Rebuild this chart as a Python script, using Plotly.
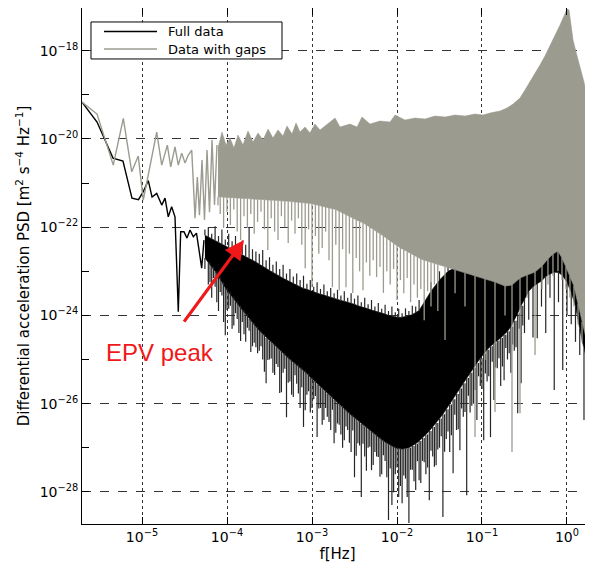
import numpy as np
import plotly.graph_objects as go

# ---------------- data: log10(frequency / Hz) and log10(PSD) ----------------
# sparse low-frequency part, full data (black)
full_line_f = [-5.706, -5.529, -5.341, -5.224, -5.118, -5.041, -4.982, -4.926, -4.882, -4.827,
               -4.768, -4.729, -4.691, -4.651, -4.612, -4.573, -4.545, -4.506, -4.471, -4.435,
               -4.396, -4.359, -4.329, -4.298, -4.271]
full_line_psd = [-19.163, -19.617, -20.433, -20.501, -21.340, -21.374, -21.181, -20.943, -21.317, -21.234,
                 -21.499, -21.340, -21.764, -21.537, -21.764, -23.918, -22.104, -22.104, -22.247, -22.066,
                 -22.218, -22.134, -22.519, -22.927, -22.293]

# sparse low-frequency part, data with gaps (grey)
gaps_line_f = [-5.706, -5.529, -5.338, -5.220, -5.121, -5.044, -4.985, -4.827, -4.768, -4.702,
               -4.662, -4.612, -4.573, -4.533, -4.494, -4.455, -4.415, -4.376, -4.349, -4.324,
               -4.294, -4.265, -4.235, -4.206, -4.176, -4.147, -4.118]
gaps_line_psd = [-19.163, -19.435, -20.592, -19.533, -20.744, -20.388, -21.385, -19.844, -20.592, -20.138,
                 -20.630, -20.177, -20.592, -20.320, -20.546, -20.365, -20.252, -21.794, -20.864, -21.726,
                 -20.478, -21.839, -20.252, -21.658, -20.025, -21.499, -20.138]

# dense part, data with gaps: upper edge
gaps_top_f = [-4.106, -4.059, -4.012, -3.965, -3.918, -3.871, -3.812, -3.753, -3.694, -3.635,
              -3.576, -3.517, -3.459, -3.400, -3.341, -3.294, -3.235, -3.188, -3.141, -3.082,
              -3.024, -2.965, -2.906, -2.847, -2.729, -2.671, -2.553, -2.470, -2.412, -2.318,
              -2.200, -2.082, -2.023, -1.906, -1.788, -1.670, -1.553, -1.435, -1.317, -1.200,
              -1.082, -0.988, -0.906, -0.788, -0.706, -0.635, -0.553, -0.494, -0.435, -0.376,
              -0.318, -0.259, -0.200, -0.141, -0.082, -0.035, 0.000, 0.024, 0.047, 0.071,
              0.106, 0.153, 0.200, 0.235, 0.271, 0.306]
gaps_top_psd = [-20.206, -19.844, -20.138, -19.980, -20.206, -19.912, -20.138, -19.821, -20.070, -19.866,
                -20.025, -19.776, -19.980, -19.798, -19.934, -19.707, -19.889, -19.640, -19.844, -19.730,
                -19.866, -19.662, -19.798, -19.707, -19.526, -19.730, -19.662, -19.730, -19.503, -19.662,
                -19.594, -19.617, -19.458, -19.572, -19.526, -19.549, -19.481, -19.503, -19.458, -19.481,
                -19.435, -19.458, -19.413, -19.367, -19.299, -19.209, -19.073, -18.891, -18.710, -18.506,
                -18.324, -18.120, -17.893, -17.667, -17.417, -17.213, -17.054, -17.077, -17.417, -17.757,
                -18.029, -18.370, -18.710, -19.050, -19.345, -19.617]

# dense part, data with gaps: lower edge and the tips of the downward spikes hanging from it
gaps_bot_f = [-4.106,
              -4.08, -4.04, -4.00, -3.96, -3.92, -3.88, -3.84, -3.80, -3.76, -3.72,
              -3.68, -3.64, -3.60, -3.56, -3.52, -3.48, -3.44, -3.40, -3.36, -3.32,
              -3.28, -3.24, -3.20, -3.16, -3.12, -3.08, -3.04, -3.00, -2.96, -2.92,
              -2.88, -2.84, -2.80, -2.76, -2.72, -2.68, -2.64, -2.60, -2.56, -2.52,
              -2.48, -2.44, -2.40, -2.36, -2.32, -2.28, -2.24, -2.20, -2.16, -2.12,
              -2.08, -2.04, -2.00, -1.96, -1.92, -1.88, -1.84, -1.80, -1.76, -1.72,
              -1.68, -1.64, -1.60, -1.56, -1.52,
              -1.435, -1.317, -1.200, -1.082, -0.965, -0.847, -0.729, -0.647, -0.553, -0.470,
              -0.376, -0.294, -0.224, -0.165, -0.106, -0.059, -0.012, 0.035, 0.082, 0.130,
              0.177, 0.224, 0.271, 0.306]
gaps_bot_psd = [-21.31,
                -21.31, -21.32, -21.32, -21.33, -21.33, -21.34, -21.34, -21.35, -21.35, -21.36,
                -21.36, -21.37, -21.37, -21.38, -21.38, -21.39, -21.39, -21.40, -21.40, -21.41,
                -21.41, -21.42, -21.42, -21.43, -21.44, -21.45, -21.46, -21.47, -21.48, -21.50,
                -21.52, -21.54, -21.56, -21.58, -21.60, -21.63, -21.67, -21.71, -21.75, -21.79,
                -21.83, -21.87, -21.90, -21.95, -22.00, -22.05, -22.10, -22.15, -22.20, -22.25,
                -22.30, -22.36, -22.42, -22.47, -22.52, -22.56, -22.60, -22.64, -22.68, -22.72,
                -22.75, -22.78, -22.80, -22.82, -22.84,
                -22.905, -22.973, -23.041, -23.109, -23.177, -23.245, -23.336, -23.313, -23.154, -23.086,
                -23.018, -22.882, -22.723, -22.610, -22.542, -22.701, -22.905, -23.109, -23.336, -23.744,
                -24.152, -24.515, -24.832, -25.014]
gaps_bot_tip = [-21.50,
                -21.70, -22.02, -21.65, -21.95, -21.60, -22.10, -22.29, -21.75, -22.02, -21.70,
                -22.15, -21.88, -21.65, -22.05, -22.52, -21.80, -22.10, -22.29, -21.75, -22.00,
                -22.36, -21.85, -22.15, -21.80, -22.40, -22.93, -22.05, -23.36, -22.20, -22.60,
                -22.47, -22.10, -22.75, -23.36, -22.40, -23.43, -22.50, -23.36, -22.60, -23.49,
                -22.70, -23.00, -23.43, -22.80, -23.10, -22.75, -23.13, -22.90, -23.49, -23.00,
                -23.30, -22.95, -23.65, -23.20, -23.50, -23.15, -23.70, -23.30, -23.60, -23.40,
                -24.11, -23.45, -23.80, -23.30, -23.90,
                -24.56, -23.50, -23.80, -26.76, -25.01, -26.19, -24.00, -27.10, -26.22, -23.60,
                -24.90, -23.40, -23.30, -23.10, -23.00, -23.20, -23.40, -23.60, -23.80, -24.20,
                -24.60, -24.90, -25.20, -25.30]

# dense part, full data: upper edge and the tips of the upward spikes (EPV peak at -3.74)
full_top_f = [-4.26,
              -4.22, -4.18, -4.14, -4.10, -4.06, -4.02, -3.98, -3.94, -3.90, -3.86,
              -3.82, -3.78, -3.74, -3.70, -3.66, -3.62, -3.58, -3.54, -3.50, -3.46,
              -3.42, -3.38, -3.34, -3.30, -3.26, -3.22, -3.18, -3.14, -3.10, -3.06,
              -3.02, -2.98, -2.94, -2.90, -2.86, -2.82, -2.78, -2.74, -2.70, -2.66,
              -2.62, -2.58, -2.54, -2.50, -2.46, -2.42, -2.38, -2.34, -2.30, -2.26,
              -2.22, -2.18, -2.14, -2.10, -2.06, -2.02, -1.98, -1.94, -1.90, -1.86,
              -1.82, -1.78, -1.74,
              -1.60, -1.50, -1.40, -1.30, -1.20, -1.10, -0.95, -0.80, -0.70, -0.60,
              -0.50, -0.35, -0.20, -0.05, 0.10, 0.20, 0.306]
full_top_psd = [-22.18,
                -22.22, -22.26, -22.30, -22.34, -22.38, -22.42, -22.46, -22.50, -22.54, -22.58,
                -22.62, -22.66, -22.70, -22.75, -22.79, -22.84, -22.88, -22.93, -22.98, -23.02,
                -23.07, -23.11, -23.16, -23.20, -23.24, -23.28, -23.32, -23.36, -23.39, -23.41,
                -23.44, -23.47, -23.49, -23.52, -23.54, -23.57, -23.59, -23.61, -23.64, -23.66,
                -23.68, -23.70, -23.72, -23.75, -23.78, -23.80, -23.83, -23.85, -23.88, -23.90,
                -23.93, -23.95, -23.97, -24.00, -24.02, -24.03, -24.05, -24.04, -24.03, -24.01,
                -23.98, -23.94, -23.89,
                -23.45, -23.20, -23.00, -22.90, -22.85, -22.75, -22.72, -22.80, -22.85, -22.82,
                -22.70, -22.55, -22.45, -22.40, -22.60, -22.90, -23.15]
full_top_tip = [-22.05,
                -22.00, -22.15, -21.98, -22.20, -22.05, -22.28, -22.15, -22.32, -22.20, -22.45,
                -22.30, -22.40, -22.02, -22.50, -22.55, -22.60, -22.52, -22.75, -22.68, -22.85,
                -22.78, -22.95, -22.85, -23.05, -22.95, -23.12, -23.05, -23.20, -23.10, -23.28,
                -23.20, -23.35, -23.25, -23.40, -23.30, -23.45, -23.38, -23.50, -23.42, -23.55,
                -23.45, -23.60, -23.50, -23.62, -23.55, -23.70, -23.60, -23.75, -23.65, -23.80,
                -23.72, -23.85, -23.76, -23.90, -23.80, -23.93, -23.85, -23.95, -23.84, -23.90,
                -23.78, -23.80, -23.65,
                -23.25, -23.00, -22.85, -22.75, -22.60, -22.50, -22.50, -22.60, -22.65, -22.60,
                -22.50, -22.35, -22.25, -22.20, -22.40, -22.70, -22.95]

# dense part, full data: lower edge and the tips of the downward spikes
full_bot_f = [-4.26,
              -4.22, -4.18, -4.14, -4.10, -4.06, -4.02, -3.98, -3.94, -3.90, -3.86,
              -3.82, -3.78, -3.74, -3.70, -3.66, -3.62, -3.58, -3.54, -3.50, -3.46,
              -3.42, -3.38, -3.34, -3.30, -3.26, -3.22, -3.18, -3.14, -3.10, -3.06,
              -3.02, -2.98, -2.94, -2.90, -2.86, -2.82, -2.78, -2.74, -2.70, -2.66,
              -2.62, -2.58, -2.54, -2.50, -2.46, -2.42, -2.38, -2.34, -2.30, -2.26,
              -2.22, -2.18, -2.14, -2.10, -2.06, -2.02, -1.98, -1.94, -1.90, -1.86,
              -1.82, -1.78, -1.74, -1.70, -1.66, -1.62, -1.58, -1.54, -1.50, -1.46,
              -1.42, -1.38, -1.34, -1.30, -1.26, -1.22, -1.18, -1.14, -1.10, -1.06,
              -1.02, -0.98, -0.94, -0.90, -0.86, -0.82, -0.78, -0.74, -0.70, -0.66,
              -0.62, -0.58, -0.54, -0.50,
              -0.45, -0.40, -0.35, -0.30, -0.25, -0.20, -0.15, -0.10, -0.05, 0.00,
              0.05, 0.10, 0.15, 0.20, 0.25, 0.306]
full_bot_psd = [-22.70,
                -22.80, -22.90, -23.00, -23.12, -23.25, -23.38, -23.48, -23.58, -23.68, -23.78,
                -23.88, -23.98, -24.08, -24.17, -24.26, -24.35, -24.43, -24.51, -24.58, -24.65,
                -24.72, -24.79, -24.86, -24.93, -25.00, -25.06, -25.12, -25.18, -25.25, -25.32,
                -25.40, -25.48, -25.56, -25.63, -25.70, -25.77, -25.84, -25.91, -25.98, -26.05,
                -26.12, -26.19, -26.26, -26.33, -26.40, -26.46, -26.52, -26.58, -26.64, -26.70,
                -26.76, -26.82, -26.87, -26.92, -26.96, -27.00, -27.02, -27.03, -27.02, -27.00,
                -26.96, -26.91, -26.85, -26.78, -26.70, -26.62, -26.53, -26.44, -26.34, -26.24,
                -26.13, -26.02, -25.90, -25.78, -25.66, -25.54, -25.42, -25.30, -25.19, -25.08,
                -24.97, -24.87, -24.78, -24.70, -24.63, -24.57, -24.51, -24.44, -24.36, -24.26,
                -24.12, -23.95, -23.78, -23.62,
                -23.45, -23.35, -23.28, -23.22, -23.12, -23.06, -23.02, -23.03, -23.10, -23.25,
                -23.48, -23.80, -24.30, -24.75, -25.15, -25.58]
full_bot_tip = [-22.95,
                -23.30, -23.60, -23.35, -23.90, -23.55, -24.45, -23.85, -24.30, -23.95, -24.40,
                -24.15, -24.60, -24.35, -24.70, -24.72, -24.80, -25.00, -25.54, -25.00, -25.30,
                -25.10, -25.76, -25.30, -26.31, -25.50, -25.85, -25.55, -26.10, -26.53, -25.80,
                -26.20, -25.90, -26.76, -26.10, -26.37, -26.30, -26.60, -26.90, -26.45, -26.70,
                -26.83, -26.60, -27.10, -27.67, -26.90, -28.12, -27.20, -27.00, -27.51, -27.10,
                -27.21, -27.60, -27.30, -28.64, -28.30, -27.60, -28.12, -28.26, -27.70, -28.71,
                -27.50, -27.96, -27.74, -27.30, -27.60, -28.19, -27.20, -27.40, -27.00, -28.57,
                -26.80, -27.10, -27.58, -26.60, -27.06, -26.30, -28.08, -26.20, -26.00, -26.37,
                -25.60, -26.83, -25.50, -26.76, -25.92, -25.20, -25.60, -25.47, -25.00, -25.30,
                -24.80, -26.22, -25.54, -24.40,
                -24.10, -24.50, -24.52, -23.80, -24.40, -23.60, -25.69, -23.70, -25.24, -24.00,
                -24.20, -24.60, -24.90, -26.37, -26.31, -27.35]

# full data: the shorter downward spikes lying between the ones above
full_mid_f = [-4.20, -4.16, -4.12, -4.08, -4.04, -4.00, -3.96, -3.92, -3.88, -3.84,
              -3.80, -3.76, -3.72, -3.68, -3.64, -3.60, -3.56, -3.52, -3.48, -3.44,
              -3.40, -3.36, -3.32, -3.28, -3.24, -3.20, -3.16, -3.12, -3.08, -3.04,
              -3.00, -2.96, -2.92, -2.88, -2.84, -2.80, -2.76, -2.72, -2.68, -2.64,
              -2.60, -2.56, -2.52, -2.48, -2.44, -2.40, -2.36, -2.32, -2.28, -2.24,
              -2.20, -2.16, -2.12, -2.08, -2.04, -2.00, -1.96, -1.92, -1.88, -1.84,
              -1.80, -1.76, -1.72, -1.68, -1.64, -1.60, -1.56, -1.52, -1.48, -1.44,
              -1.40, -1.36, -1.32, -1.28, -1.24, -1.20, -1.16, -1.12, -1.08, -1.04,
              -1.00, -0.96, -0.92, -0.88, -0.84, -0.80, -0.76, -0.72, -0.68, -0.64,
              -0.60, -0.56, -0.52]
full_mid_base = [-22.80, -22.90, -23.00, -23.12, -23.25, -23.38, -23.48, -23.58, -23.68, -23.78,
                 -23.88, -23.98, -24.08, -24.17, -24.26, -24.35, -24.43, -24.51, -24.58, -24.65,
                 -24.72, -24.79, -24.86, -24.93, -25.00, -25.06, -25.12, -25.18, -25.25, -25.32,
                 -25.40, -25.48, -25.56, -25.63, -25.70, -25.77, -25.84, -25.91, -25.98, -26.05,
                 -26.12, -26.19, -26.26, -26.33, -26.40, -26.46, -26.52, -26.58, -26.64, -26.70,
                 -26.76, -26.82, -26.87, -26.92, -26.96, -27.00, -27.02, -27.03, -27.02, -27.00,
                 -26.96, -26.91, -26.85, -26.78, -26.70, -26.62, -26.53, -26.44, -26.34, -26.24,
                 -26.13, -26.02, -25.90, -25.78, -25.66, -25.54, -25.42, -25.30, -25.19, -25.08,
                 -24.97, -24.87, -24.78, -24.70, -24.63, -24.57, -24.51, -24.44, -24.36, -24.26,
                 -24.12, -23.95, -23.78]
full_mid_tip = [-23.25, -23.15, -23.70, -23.47, -24.15, -23.88, -23.78, -24.23, -24.08, -24.58,
                -24.43, -24.28, -24.83, -24.62, -24.86, -24.70, -25.28, -25.01, -24.98, -25.35,
                -25.17, -25.74, -25.21, -25.53, -25.80, -25.36, -25.77, -25.63, -26.15, -25.72,
                -26.10, -25.83, -26.11, -26.48, -26.10, -26.42, -26.14, -26.66, -26.48, -27.00,
                -26.52, -26.89, -26.61, -27.18, -26.95, -26.91, -27.52, -26.98, -27.39, -27.20,
                -27.66, -27.17, -27.67, -27.47, -28.01, -27.45, -27.87, -27.63, -28.12, -27.50,
                -27.76, -27.31, -27.80, -27.33, -27.45, -27.07, -27.43, -27.04, -26.74, -27.09,
                -26.63, -26.72, -26.25, -26.58, -26.11, -26.19, -25.82, -26.05, -25.69, -25.38,
                -25.67, -25.32, -25.38, -25.05, -25.18, -24.97, -25.16, -24.74, -24.86, -24.66,
                -24.72, -24.30, -24.23]

y_tick_exp = [-28, -26, -24, -22, -20, -18]
y_minor_exp = [-27, -25, -23, -21, -19, -17]
x_tick_exp = [-5, -4, -3, -2, -1, 0]
legend_names = ["Full data", "Data with gaps"]

BLACK = "#000000"
SPIKE_BLACK = "#262626"
GREY = "#9c9b90"
RED = "#f01818"
FONT = "DejaVu Sans"


def p10(a):
    return (10.0 ** np.array(a, dtype=float)).tolist()


def band(top_f, top_v, bot_f, bot_v):
    xs = p10(top_f) + p10(bot_f[::-1])
    ys = p10(top_v) + p10(bot_v[::-1])
    return xs, ys


def spikes(f, base, tip):
    xs, ys = [], []
    for a, b, c in zip(p10(f), p10(base), p10(tip)):
        xs += [a, a, None]
        ys += [b, c, None]
    return xs, ys


fig = go.Figure()

# ---- full data (drawn first, underneath)
bx, by = band(full_top_f, full_top_psd, full_bot_f, full_bot_psd)
fig.add_trace(go.Scatter(x=bx, y=by, mode="lines", fill="toself", fillcolor=BLACK,
                         line=dict(color=BLACK, width=0.6), showlegend=False, hoverinfo="skip"))
for f_, b_, t_ in [(full_bot_f, full_bot_psd, full_bot_tip),
                   (full_mid_f, full_mid_base, full_mid_tip),
                   (full_top_f, full_top_psd, full_top_tip)]:
    sx, sy = spikes(f_, b_, t_)
    fig.add_trace(go.Scatter(x=sx, y=sy, mode="lines", line=dict(color=SPIKE_BLACK, width=1.2),
                             showlegend=False, hoverinfo="skip"))
fig.add_trace(go.Scatter(x=p10(full_line_f), y=p10(full_line_psd), mode="lines",
                         line=dict(color=BLACK, width=1.4), name=legend_names[0],
                         showlegend=False))

# ---- data with gaps (on top)
bx, by = band(gaps_top_f, gaps_top_psd, gaps_bot_f, gaps_bot_psd)
fig.add_trace(go.Scatter(x=bx, y=by, mode="lines", fill="toself", fillcolor=GREY,
                         line=dict(color=GREY, width=0.6), showlegend=False, hoverinfo="skip"))
sx, sy = spikes(gaps_bot_f, gaps_bot_psd, gaps_bot_tip)
fig.add_trace(go.Scatter(x=sx, y=sy, mode="lines", line=dict(color=GREY, width=1.3),
                         showlegend=False, hoverinfo="skip"))
fig.add_trace(go.Scatter(x=p10(gaps_line_f), y=p10(gaps_line_psd), mode="lines",
                         line=dict(color=GREY, width=1.4), name=legend_names[1],
                         showlegend=False))

# the page body has an 8 px margin, so the figure is 8 px smaller and margins are shifted
fig.update_layout(
    width=585, height=560,
    margin=dict(l=74, r=0, t=0, b=44),
    paper_bgcolor="white", plot_bgcolor="white",
    font=dict(family=FONT, size=14, color="black"),
    showlegend=False,
    xaxis=dict(type="log", range=[-5.706, 0.306], automargin=False,
               tickvals=[10.0 ** e for e in x_tick_exp],
               ticktext=["10<sup>%s</sup>" % (str(e).replace("-", "\u2212")) for e in x_tick_exp],
               ticks="inside", ticklen=7, tickcolor="black",
               showline=True, linecolor="black", linewidth=1, mirror="ticks",
               showgrid=True, gridcolor="#333333", griddash="dot", gridwidth=1,
               zeroline=False,
               title=dict(text="f[Hz]", font=dict(family=FONT, size=15), standoff=2),
               tickfont=dict(family=FONT, size=14)),
    yaxis=dict(type="log", range=[-28.73, -17.03], automargin=False,
               tickvals=[10.0 ** e for e in y_tick_exp],
               ticktext=["10<sup>%s</sup>" % (str(e).replace("-", "\u2212")) for e in y_tick_exp],
               ticks="inside", ticklen=7, tickcolor="black",
               minor=dict(tickvals=[10.0 ** e for e in y_minor_exp], ticks="inside",
                          ticklen=7, tickcolor="black", showgrid=False),
               showline=True, linecolor="black", linewidth=1, mirror="ticks",
               showgrid=True, gridcolor="#333333", griddash="dash", gridwidth=1,
               zeroline=False,
               title=dict(text="Differential acceleration PSD [m<sup>2</sup> s<sup>\u22124</sup> Hz<sup>\u22121</sup>]",
                          font=dict(family=FONT, size=15), standoff=6),
               tickfont=dict(family=FONT, size=14)),
)

# ---- legend box (paper coordinates of the plotting area)
fig.add_shape(type="rect", xref="paper", yref="paper", x0=0.0176, x1=0.3914, y0=0.9012, y1=0.9729,
              line=dict(color="black", width=1), fillcolor="white", layer="above")
legend_rows = [(0.9545, BLACK), (0.9205, GREY)]
for (yy, col), name in zip(legend_rows, legend_names):
    fig.add_shape(type="line", xref="paper", yref="paper", x0=0.0431, x1=0.1468, y0=yy, y1=yy,
                  line=dict(color=col, width=1.4), layer="above")
    fig.add_annotation(xref="paper", yref="paper", x=0.1644, y=yy, text=name, showarrow=False,
                       xanchor="left", yanchor="middle",
                       font=dict(family=FONT, size=13, color="black"))

# ---- EPV peak arrow and label (annotation coordinates are log10 on log axes)
fig.add_annotation(x=-3.800, y=-22.293, ax=-4.518, ay=-24.175, xref="x", yref="y",
                   axref="x", ayref="y", text="", showarrow=True,
                   arrowcolor=RED, arrowwidth=3.2, arrowhead=2, arrowsize=1.2, standoff=0)
fig.add_annotation(x=-4.788, y=-24.832, xref="x", yref="y", text="EPV peak", showarrow=False,
                   font=dict(family="Liberation Sans", size=24, color=RED))

fig.write_html("out.html")
